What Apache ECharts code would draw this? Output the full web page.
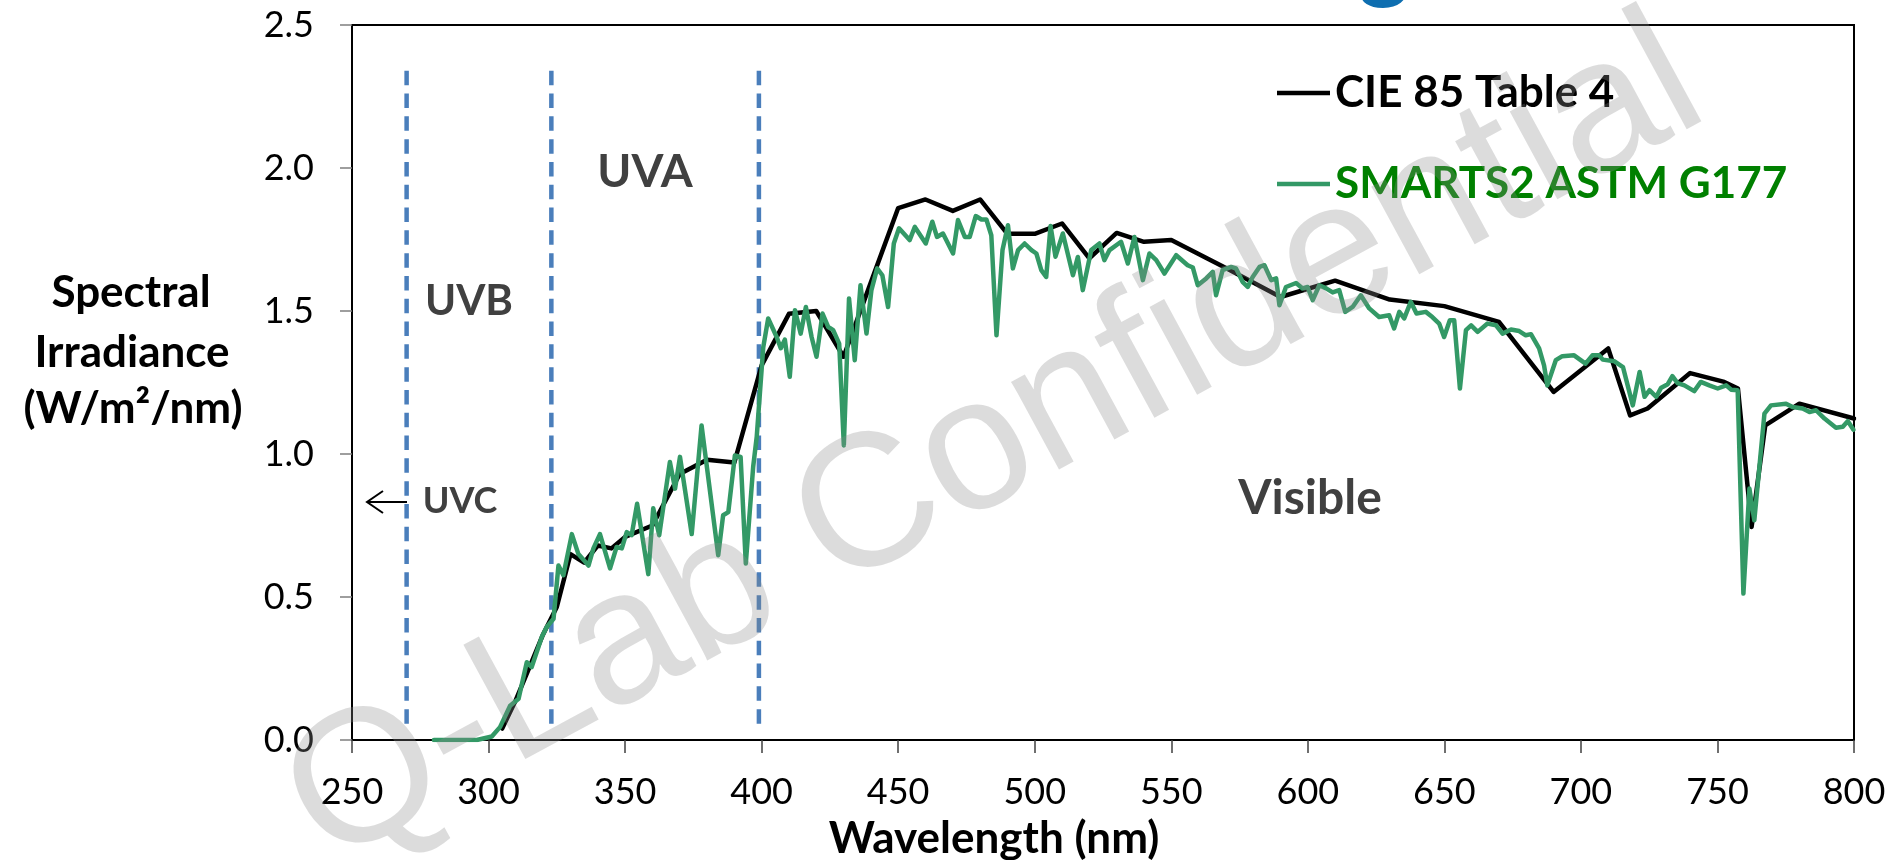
<!DOCTYPE html>
<html>
<head>
<meta charset="utf-8">
<script src="https://cdn.jsdelivr.net/npm/echarts@6/dist/echarts.min.js"></script>
<style>
html,body{margin:0;padding:0;background:#fff;}
#chart{width:1895px;height:860px;}
</style>
</head>
<body>
<div id="chart"></div>
<script>
// CIE 85 Table 4 (black)
var cieWl  = [305,310,315,320,325,330,335,340,345,350,360,370,380,390,400,410,420,430,440,450,460,470,480,490,500,510,520,530,540,550,570,590,610,630,650,670,690,710,718,724.4,740,752.5,757.5,762.5,767.5,780,800];
var cieVal = [0.04,0.14,0.255,0.37,0.465,0.65,0.62,0.68,0.67,0.71,0.75,0.93,0.98,0.97,1.31,1.49,1.50,1.34,1.60,1.86,1.89,1.85,1.89,1.77,1.77,1.806,1.684,1.773,1.742,1.748,1.65,1.549,1.606,1.54,1.517,1.462,1.217,1.369,1.135,1.159,1.283,1.252,1.229,0.745,1.10,1.176,1.124];

// SMARTS2 ASTM G177 (green)
var g177Wl = [280,295.7,301.2,304.2,307.9,311,314,315.8,319.5,321.3,323.8,325.6,327.4,330.5,332.9,336.6,338.4,340.8,344.5,346.9,348.8,
  350.6,352.4,354.4,358.5,360.3,362.5,366.4,368.3,370.1,374.4,378,384.1,385.9,387.8,390.2,392.3,394.2,396.9,398.2,
  400.6,402.4,405.5,407,408.5,410.3,412.2,414.3,416.2,418.3,420.1,422.3,424.4,426.2,428.4,430.1,432,434.1,436.2,438.4,
  440.2,442.3,444.2,446.3,448.4,450.3,454.2,456.1,460.1,462.5,464.2,466.4,470.1,471.9,474.4,476.2,478.4,480.5,482.3,484.1,
  486,488.2,490.2,492,493.9,496.3,498.8,500.6,502.4,504.2,505.8,507.6,510.3,514,515.8,517.6,520.7,523.7,525.5,527.4,
  531.6,534.1,536.5,539.6,542,544.5,547.5,551.8,556,557.9,559.7,562.8,565.2,566.4,568.8,571.9,573.7,576.1,578,579.8,
  582.3,584.1,586.6,588.4,589.6,592,595.7,598.1,599.9,601.8,604.2,606.7,609.1,611.5,613.7,616.4,619.4,622.5,626.1,629.8,
  631.6,633.5,635.3,637.7,639.8,643.2,645.6,648.1,649.9,652,653.6,655.7,657.9,659.8,662.2,665.8,668.9,671.3,674.4,677.4,
  679.8,681.7,684.7,686.5,687.7,690.8,693.2,697.5,701.7,704.2,706.7,708,712.3,715.4,719,721.5,723.3,725.1,727.6,729.4,
  731.8,733.5,735.4,737.9,741.5,743.9,747,750.1,753.2,755,757.4,759.5,761.7,763.5,767.2,769.6,775.1,777.5,781.2,783.7,
  786.1,789.2,793.4,795.9,797.7,799.8];
var g177Val = [0,0,0.012,0.045,0.12,0.144,0.272,0.255,0.36,0.395,0.424,0.61,0.576,0.72,0.65,0.61,0.67,0.72,0.60,0.675,0.67,
  0.727,0.716,0.826,0.58,0.81,0.716,0.972,0.879,0.99,0.72,1.10,0.646,0.786,0.797,0.995,0.99,0.617,0.955,1.06,
  1.374,1.474,1.409,1.37,1.40,1.27,1.503,1.421,1.514,1.409,1.34,1.491,1.444,1.433,1.386,1.03,1.544,1.328,1.59,1.421,
  1.573,1.649,1.625,1.514,1.736,1.789,1.748,1.794,1.736,1.812,1.759,1.771,1.701,1.818,1.759,1.759,1.832,1.82,1.82,1.765,
  1.415,1.713,1.80,1.649,1.713,1.736,1.713,1.701,1.643,1.619,1.797,1.69,1.771,1.625,1.689,1.573,1.713,1.736,1.678,1.713,
  1.742,1.666,1.759,1.608,1.701,1.678,1.631,1.695,1.66,1.652,1.59,1.614,1.637,1.555,1.643,1.654,1.649,1.602,1.584,1.619,
  1.654,1.66,1.608,1.614,1.52,1.584,1.598,1.579,1.584,1.538,1.59,1.579,1.565,1.573,1.497,1.514,1.555,1.509,1.479,1.485,
  1.439,1.497,1.474,1.532,1.491,1.497,1.479,1.456,1.409,1.468,1.468,1.229,1.433,1.45,1.427,1.456,1.45,1.421,1.435,1.43,
  1.415,1.419,1.369,1.31,1.24,1.328,1.342,1.345,1.316,1.345,1.345,1.33,1.324,1.304,1.17,1.287,1.2,1.223,1.2,1.232,
  1.244,1.272,1.248,1.24,1.22,1.252,1.24,1.229,1.24,1.225,1.223,0.512,0.879,0.768,1.141,1.17,1.176,1.164,1.159,1.147,
  1.153,1.124,1.092,1.095,1.115,1.085];

// band boundaries (dashed blue lines)
var bandEdges = [270, 323, 399];
var bandSpan = [2.34, 0.05];

var xTicks = {min: 250, max: 800, step: 50};
var yTicks = {min: 0, max: 2.5, step: 0.5};

function pairs(xs, ys) {
  var out = [];
  for (var i = 0; i < xs.length; i++) out.push([xs[i], ys[i]]);
  return out;
}

var FONT = 'Lato';
var series = [];
bandEdges.forEach(function (e) {
  series.push({
    type: 'line', silent: true, symbol: 'none', z: 1,
    data: [[e, bandSpan[0]], [e, bandSpan[1]]],
    lineStyle: {color: '#4A7EBB', width: 4.5, type: [14.5, 8.3], cap: 'butt'}
  });
});
series.push({
  name: 'CIE 85 Table 4', type: 'line', symbol: 'none', z: 2,
  data: pairs(cieWl, cieVal),
  lineStyle: {color: '#000000', width: 4.5, join: 'round', cap: 'round'},
  itemStyle: {color: '#000000'}
});
series.push({
  name: 'SMARTS2 ASTM G177', type: 'line', symbol: 'none', z: 3,
  data: pairs(g177Wl, g177Val),
  lineStyle: {color: '#339966', width: 4.5, join: 'round', cap: 'round'},
  itemStyle: {color: '#339966'}
});

function label(text, x, y, size, color) {
  return {
    type: 'text', x: x, y: y, z: 50, silent: true,
    style: {text: text, fill: color || '#404040', font: 'bold ' + size + 'px ' + FONT,
            align: 'center', verticalAlign: 'middle'}
  };
}

var chart = echarts.init(document.getElementById('chart'));
chart.setOption({
  animation: false,
  backgroundColor: '#ffffff',
  grid: {left: 352, right: 41, top: 25, bottom: 120, show: true, borderColor: '#000', borderWidth: 2},
  legend: {
    orient: 'vertical', left: 1277, top: 68, padding: 0,
    icon: 'rect', itemWidth: 53, itemHeight: 4.5, itemGap: 41,
    textStyle: {fontFamily: FONT, fontWeight: 'bold', fontSize: 44, lineHeight: 50},
    data: [
      {name: 'CIE 85 Table 4', textStyle: {color: '#000000'}},
      {name: 'SMARTS2 ASTM G177', textStyle: {color: '#008000'}}
    ]
  },
  xAxis: {
    type: 'value', min: xTicks.min, max: xTicks.max, interval: xTicks.step,
    axisLine: {show: true, onZero: false, lineStyle: {color: '#000', width: 2}},
    axisTick: {show: true, length: 13, lineStyle: {color: '#404040', width: 1.5}},
    axisLabel: {fontFamily: FONT, fontSize: 36, color: '#000', margin: 34},
    splitLine: {show: false}
  },
  yAxis: {
    type: 'value', min: yTicks.min, max: yTicks.max, interval: yTicks.step,
    axisLine: {show: true, lineStyle: {color: '#000', width: 2}},
    axisTick: {show: true, length: 12, lineStyle: {color: '#7f7f7f', width: 1.5}},
    axisLabel: {fontFamily: FONT, fontSize: 36, color: '#000', margin: 38,
                formatter: function (v) { return v.toFixed(1); }},
    splitLine: {show: false}
  },
  graphic: [
    label('Spectral', 131, 293, 44, '#000'),
    label('Irradiance', 132, 353, 44, '#000'),
    label('(W/m\u00b2/nm)', 133, 409, 44, '#000'),
    label('Wavelength (nm)', 994, 839, 44, '#000'),
    label('UVB', 469, 301, 42),
    label('UVA', 645, 172, 46),
    label('UVC', 460, 501, 36),
    label('Visible', 1310, 499, 48),
    {type: 'line', silent: true, z: 50, shape: {x1: 407, y1: 502, x2: 367, y2: 502},
     style: {stroke: '#000', lineWidth: 2}},
    {type: 'polyline', silent: true, z: 50, shape: {points: [[383, 491], [367, 502], [383, 513]]},
     style: {stroke: '#000', lineWidth: 2, fill: null}},
    {type: 'text', x: 1384, y: -40, z: 60, silent: true,
     style: {text: 'g', fill: '#0E6EB0', font: 'bold 96px ' + FONT, align: 'center', verticalAlign: 'middle'}},
    {type: 'text', x: 995, y: 445, rotation: 0.497, z: 100, silent: true,
     style: {text: 'Q-Lab Confidential', fill: 'rgba(140,140,140,0.3)', font: '189px "Liberation Sans"',
             align: 'center', verticalAlign: 'middle'}}
  ],
  series: series
});
</script>
</body>
</html>
